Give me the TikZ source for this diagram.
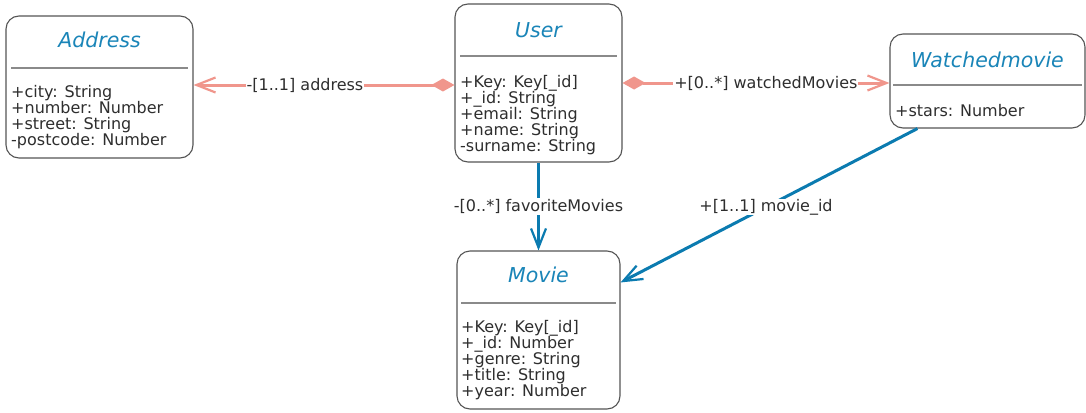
\documentclass[tikz,border=0pt]{standalone}
\usepackage{fontspec}
\setmainfont{DejaVu Sans}
\usetikzlibrary{arrows.meta}
\definecolor{salmon}{HTML}{F0968C}
\definecolor{lineblue}{HTML}{0B7BB0}
\definecolor{titleblue}{HTML}{1A85B8}
\definecolor{txt}{HTML}{2E2E2E}
\definecolor{bordercol}{HTML}{555555}
\definecolor{sepcol}{HTML}{8A8A8A}
\begin{document}
\begin{tikzpicture}[x=1pt,y=-1pt,
  classbox/.style={draw=bordercol, line width=1.1pt, rounded corners=13pt, inner sep=0pt, fill=white},
  ctitle/.style={font=\fontsize{20.5}{24}\selectfont\itshape, text=titleblue, inner sep=0pt},
  attr/.style={font=\fontsize{16}{16}\selectfont, text=txt, align=left, inner sep=0pt, anchor=west},
  sepline/.style={draw=sepcol, line width=1.1pt},
  lbl/.style={font=\fontsize{16}{16}\selectfont, text=txt, fill=white, inner sep=1pt},
  salmonline/.style={draw=salmon, line width=3pt},
  blueline/.style={draw=lineblue, line width=3pt},
  barb/.tip={Straight Barb[length=19pt,width=15pt,line width=2.2pt]},
  dia/.tip={Diamond[length=23pt,width=13pt]}
]
\useasboundingbox (0,0) rectangle (1086,412);
\fill[white] (0,0) rectangle (1086,412);

% Address
\node[classbox, minimum width=187pt, minimum height=142pt] (address) at (99.5,87) {};
\node[ctitle] (addressT) at (99.5,40) {Address};
\draw[sepline] (11,68) -- (188,68);
\node[attr] (addressA) at (11,117) {+city: String\\+number: Number\\+street: String\\-postcode: Number};

% User
\node[classbox, minimum width=167pt, minimum height=158pt] (user) at (538.5,83) {};
\node[ctitle] (userT) at (538.5,30) {User};
\draw[sepline] (460,56) -- (617,56);
\node[attr] (userA) at (460,115) {+Key: Key[\_id]\\+\_id: String\\+email: String\\+name: String\\-surname: String};

% Watchedmovie
\node[classbox, minimum width=195pt, minimum height=94pt] (watched) at (987.5,81) {};
\node[ctitle] (watchedT) at (987.5,60) {Watchedmovie};
\draw[sepline] (893,85) -- (1082,85);
\node[attr] (watchedA) at (895,111) {+stars: Number};

% Movie
\node[classbox, minimum width=163pt, minimum height=158pt] (movie) at (538.5,330) {};
\node[ctitle] (movieT) at (538.5,275) {Movie};
\draw[sepline] (461,303) -- (616,303);
\node[attr] (movieA) at (461,360) {+Key: Key[\_id]\\+\_id: Number\\+genre: String\\+title: String\\+year: Number};

% connectors
\draw[salmonline, {dia}-{barb}] ([yshift=-2pt]user.west) -- ([yshift=-2pt]user.west -| address.east)
  node[lbl, pos=0.573] (addrL) {-[1..1] address};
\draw[salmonline, {dia}-{barb}] (user.east) -- (user.east -| watched.west)
  node[lbl, pos=0.537] (watchL) {+[0..*] watchedMovies};
\draw[blueline, -{barb}] (user.south) -- (movie.north)
  node[lbl, pos=0.5] (favL) {-[0..*] favoriteMovies};
\draw[blueline, -{barb}] ([xshift=28pt]watched.south west) -- ([yshift=-32pt]movie.north east)
  node[lbl, pos=0.51, inner sep=0pt] (midL) {+[1..1] movie\_id};
\end{tikzpicture}
\end{document}
